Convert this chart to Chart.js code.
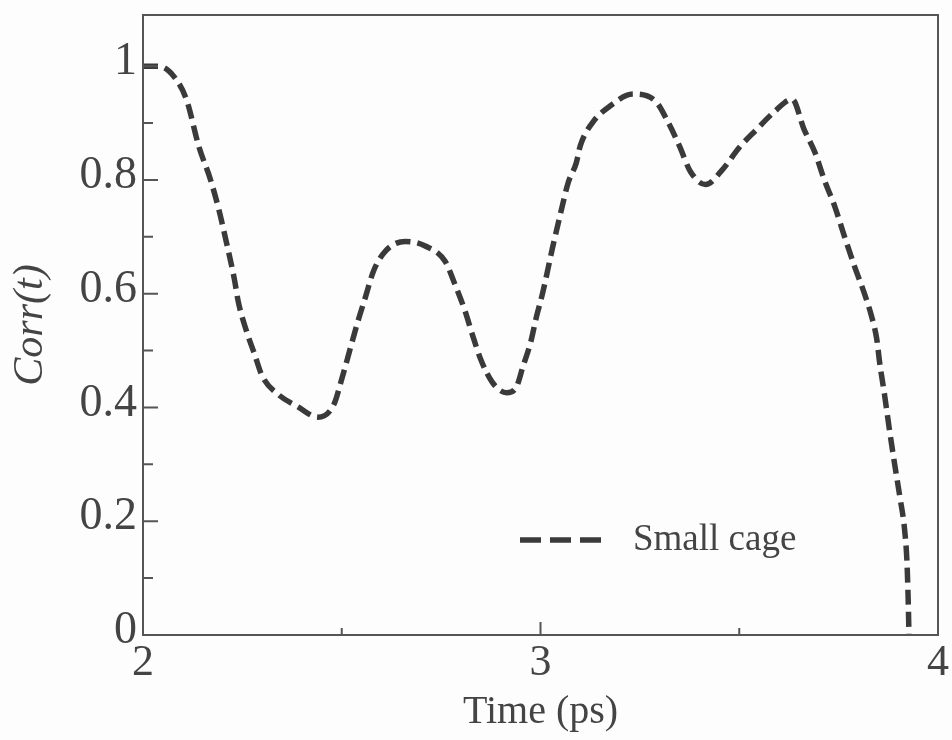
<!DOCTYPE html>
<html>
<head>
<meta charset="utf-8">
<script src="https://cdn.jsdelivr.net/npm/chart.js@4"></script>
<style>
  html, body { margin: 0; padding: 0; background: #fdfdfd; }
  #wrap { width: 952px; height: 740px; }
</style>
</head>
<body>
<div id="wrap"><canvas id="corrChart"></canvas></div>
<script>
'use strict';

/* Corr(t) — Small cage */
const times = [
  2.00, 2.04, 2.08, 2.11, 2.14, 2.17, 2.19, 2.21, 2.23, 2.24,
  2.26, 2.28, 2.30, 2.34, 2.39, 2.44, 2.48, 2.50, 2.52, 2.54,
  2.56, 2.58, 2.61, 2.66, 2.71, 2.76, 2.785, 2.81, 2.83, 2.85,
  2.88, 2.915, 2.94, 2.955, 2.975, 2.99, 3.005, 3.03, 3.05, 3.07,
  3.09, 3.10, 3.13, 3.175, 3.233, 3.29, 3.32, 3.35, 3.377, 3.415,
  3.46, 3.50, 3.544, 3.59, 3.633, 3.663, 3.69, 3.714, 3.74, 3.765,
  3.79, 3.815, 3.833, 3.846, 3.853, 3.866, 3.878, 3.891, 3.904, 3.916,
  3.922, 3.925, 3.927
];
const corr = [
  1.00, 1.00, 0.98, 0.94, 0.86, 0.80, 0.75, 0.69, 0.625, 0.585,
  0.535, 0.495, 0.455, 0.423, 0.401, 0.383, 0.405, 0.45, 0.50, 0.55,
  0.595, 0.64, 0.675, 0.692, 0.684, 0.657, 0.616, 0.57, 0.525, 0.484,
  0.443, 0.426, 0.437, 0.47, 0.514, 0.56, 0.60, 0.68, 0.74, 0.796,
  0.83, 0.86, 0.90, 0.93, 0.951, 0.938, 0.903, 0.859, 0.815, 0.792,
  0.82, 0.857, 0.889, 0.921, 0.942, 0.889, 0.849, 0.80, 0.754, 0.70,
  0.648, 0.60, 0.56, 0.52, 0.48, 0.42, 0.36, 0.30, 0.243, 0.185,
  0.127, 0.062, 0.0
];

const xMajor = [2, 3, 4];
const xMinor = [2.5, 3.5];
const yMajor = [0, 0.2, 0.4, 0.6, 0.8, 1];
const yMinor = [0.1, 0.3, 0.5, 0.7, 0.9];
const seriesName = 'Small cage';

const INK = '#3a3a3a';
const AXIS = '#555';
const SERIF = '"Liberation Serif", "DejaVu Serif", serif';

// frame, inward ticks and in-plot legend
const framePlugin = {
  id: 'frame',
  afterDatasetsDraw(chart) {
    const { ctx, chartArea: a, scales } = chart;
    ctx.save();
    ctx.strokeStyle = AXIS;
    ctx.lineWidth = 2;
    ctx.strokeRect(a.left, a.top, a.right - a.left, a.bottom - a.top);

    ctx.beginPath();
    xMajor.forEach(v => { const px = scales.x.getPixelForValue(v); ctx.moveTo(px, a.bottom); ctx.lineTo(px, a.bottom - 13); });
    xMinor.forEach(v => { const px = scales.x.getPixelForValue(v); ctx.moveTo(px, a.bottom); ctx.lineTo(px, a.bottom - 7); });
    yMajor.forEach(v => { const py = scales.y.getPixelForValue(v); ctx.moveTo(a.left, py); ctx.lineTo(a.left + 15, py); });
    yMinor.forEach(v => { const py = scales.y.getPixelForValue(v); ctx.moveTo(a.left, py); ctx.lineTo(a.left + 10, py); });
    ctx.stroke();

    // legend
    const lx = a.left + 377, ly = a.top + 525;
    ctx.strokeStyle = INK;
    ctx.lineWidth = 5.5;
    ctx.setLineDash([21, 9]);
    ctx.beginPath();
    ctx.moveTo(lx, ly);
    ctx.lineTo(lx + 88, ly);
    ctx.stroke();
    ctx.setLineDash([]);
    ctx.fillStyle = '#444';
    ctx.font = '37px ' + SERIF;
    ctx.textBaseline = 'middle';
    ctx.fillText(seriesName, lx + 113, ly);
    ctx.restore();
  },
};

new Chart(
  document.getElementById('corrChart').getContext('2d'),
  {
    type: 'line',
    data: {
      datasets: [{
        label: seriesName,
        data: times.map((t, i) => ({ x: t, y: corr[i] })),
        borderColor: INK,
        borderWidth: 5.5,
        borderDash: [15, 7],
        pointRadius: 0,
        cubicInterpolationMode: 'monotone',
        fill: false,
      }],
    },
    options: {
      responsive: true,
      maintainAspectRatio: false,
      animation: false,
      layout: { padding: { top: 15, right: 14, left: 0, bottom: 0 } },
      plugins: {
        legend:  { display: false },
        tooltip: { enabled: false },
      },
      scales: {
        x: {
          type: 'linear',
          min: 2, max: 4,
          afterBuildTicks: s => { s.ticks = xMajor.map(v => ({ value: v })); },
          afterFit: s => { s.height = 105; s.paddingLeft = 0; s.paddingRight = 0; },
          grid:   { display: false, drawTicks: false },
          border: { display: false },
          ticks:  { padding: 2, color: '#444', font: { family: SERIF, size: 44 }, maxRotation: 0 },
          title:  { display: true, text: 'Time (ps)', color: '#444', padding: { top: 0, bottom: 4 },
                    font: { family: SERIF, size: 40 } },
        },
        y: {
          min: 0, max: 1.09,
          afterBuildTicks: s => { s.ticks = yMajor.map(v => ({ value: v })); },
          afterFit: s => { s.width = 143; s.paddingTop = 0; s.paddingBottom = 0; },
          grid:   { display: false, drawTicks: false },
          border: { display: false },
          ticks:  { padding: 6, labelOffset: -4, color: '#444', font: { family: SERIF, size: 46 },
                    callback: v => String(v) },
          title:  { display: true, text: 'Corr(t)', color: '#444', padding: { top: 6, bottom: 0 },
                    font: { family: SERIF, size: 42, style: 'italic' } },
        },
      },
    },
    plugins: [framePlugin],
  }
);
</script>
</body>
</html>
